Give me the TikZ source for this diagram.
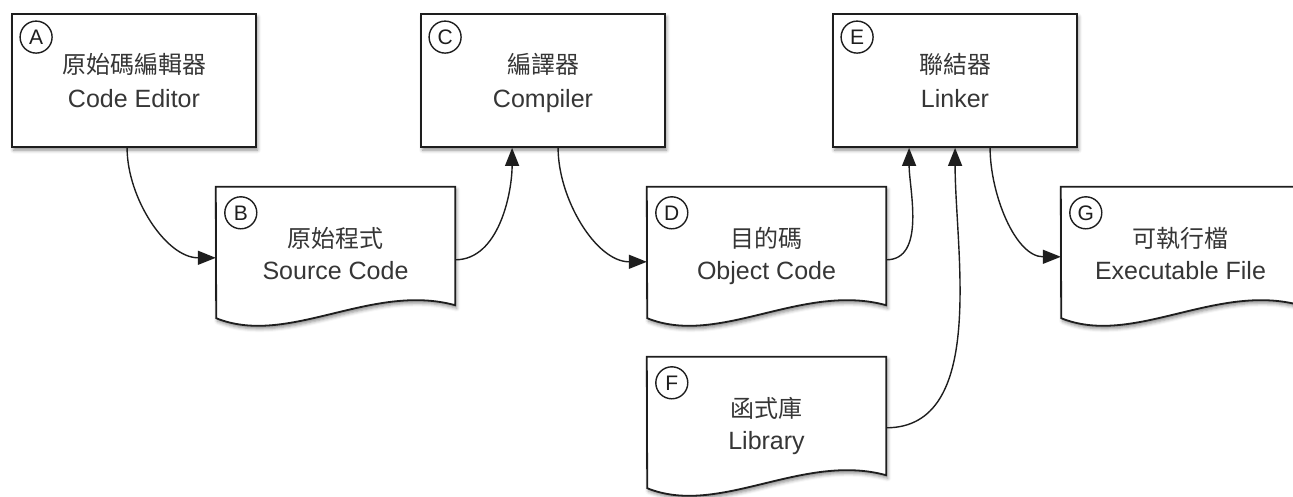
\documentclass[tikz,border=0pt]{standalone}
\usepackage{fontspec}
\setmainfont{Liberation Sans}
\newfontfamily\cjk{Noto Sans CJK TC}
\usetikzlibrary{arrows.meta,shadows.blur,calc}

\definecolor{ink}{HTML}{1E1E1E}
\definecolor{txt}{HTML}{363636}

\tikzset{
  softshadow/.style={blur shadow={shadow xshift=1.5pt,shadow yshift=-3pt,
      shadow blur radius=3.5pt,shadow opacity=45}},
  procbox/.style={draw=ink,line width=1.8pt,fill=white,minimum width=244pt,
      minimum height=133pt,inner sep=0pt,softshadow},
  docframe/.style={minimum width=239pt,minimum height=118pt,inner sep=0pt},
  docline/.style={draw=ink,line width=1.8pt,fill=white,softshadow},
  tag/.style={circle,draw=ink,line width=1.4pt,minimum size=32pt,inner sep=0pt,
      font=\fontsize{21}{21}\selectfont,text=ink},
  zh/.style={anchor=base,font=\cjk\fontsize{24}{24}\selectfont,text=txt},
  en/.style={anchor=base,font=\fontsize{25}{25}\selectfont,text=txt},
  flow/.style={draw=ink,line width=1.4pt,-{Triangle[length=18pt,width=14pt]}},
}

% document shape with a wavy lower edge, drawn on an invisible frame node
\newcommand\docshape[1]{%
  \path[docline] (#1.north west) -- (#1.north east) -- (#1.south east)
    .. controls ($(#1.south east)+(-84,-23)$) and ($(#1.south east)+(-167,42)$)
    .. ($(#1.south east)+(-239,13)$) -- cycle;}

\begin{document}
\begin{tikzpicture}[x=1pt,y=-1pt]
\useasboundingbox (0,0) rectangle (1293,496);

% processing steps
\node[procbox] (A) at (134,80.5) {};
\node[procbox] (C) at (543,80.5) {};
\node[procbox] (E) at (955,80.5) {};

% files
\node[docframe] (B) at (335.5,246) {};
\node[docframe] (D) at (766.5,246) {};
\node[docframe] (F) at (766.5,416) {};
\node[docframe] (G) at (1180.5,246) {};
\docshape{B}
\docshape{D}
\docshape{F}
\docshape{G}

% captions
\node[zh] (Azh) at ($(A.north)+(0,60)$) {原始碼編輯器};
\node[en] (Aen) at ($(A.north)+(0,94)$) {Code Editor};
\node[zh] (Czh) at ($(C.north)+(0,60)$) {編譯器};
\node[en] (Cen) at ($(C.north)+(0,94)$) {Compiler};
\node[zh] (Ezh) at ($(E.north)+(0,60)$) {聯結器};
\node[en] (Een) at ($(E.north)+(0,94)$) {Linker};
\node[zh] (Bzh) at ($(B.north)+(0,61)$) {原始程式};
\node[en] (Ben) at ($(B.north)+(0,93)$) {Source Code};
\node[zh] (Dzh) at ($(D.north)+(0,61)$) {目的碼};
\node[en] (Den) at ($(D.north)+(0,93)$) {Object Code};
\node[zh] (Fzh) at ($(F.north)+(0,61)$) {函式庫};
\node[en] (Fen) at ($(F.north)+(0,93)$) {Library};
\node[zh] (Gzh) at ($(G.north)+(0,61)$) {可執行檔};
\node[en] (Gen) at ($(G.north)+(0,93)$) {Executable File};

% letter tags
\node[tag] (tA) at ($(A.north west)+(25,24)$) {A};
\node[tag] (tB) at ($(B.north west)+(25,26)$) {B};
\node[tag] (tC) at ($(C.north west)+(25,24)$) {C};
\node[tag] (tD) at ($(D.north west)+(25,26)$) {D};
\node[tag] (tE) at ($(E.north west)+(25,24)$) {E};
\node[tag] (tF) at ($(F.north west)+(25,26)$) {F};
\node[tag] (tG) at ($(G.north west)+(25,26)$) {G};

% data flow
\draw[flow] ($(A.south west)+(116,0)$) to[out=-90,in=180,looseness=0.9]
  ($(B.north west)+(0,71)$);
\draw[flow] ($(B.north east)+(0,73)$) to[out=0,in=-90,looseness=0.9]
  ($(C.south west)+(92,0)$);
\draw[flow] ($(C.south west)+(138,0)$) to[out=-90,in=180,looseness=0.9]
  ($(D.north west)+(0,75)$);
\draw[flow] ($(D.north east)+(0,73)$) to[out=0,in=-90,looseness=0.9]
  ($(E.south west)+(77,0)$);
\draw[flow] ($(F.north east)+(0,71)$) to[out=0,in=-90,looseness=0.9]
  ($(E.south west)+(123,0)$);
\draw[flow] ($(E.south west)+(158,0)$) to[out=-90,in=180,looseness=0.9]
  ($(G.north west)+(0,70)$);
\end{tikzpicture}
\end{document}
